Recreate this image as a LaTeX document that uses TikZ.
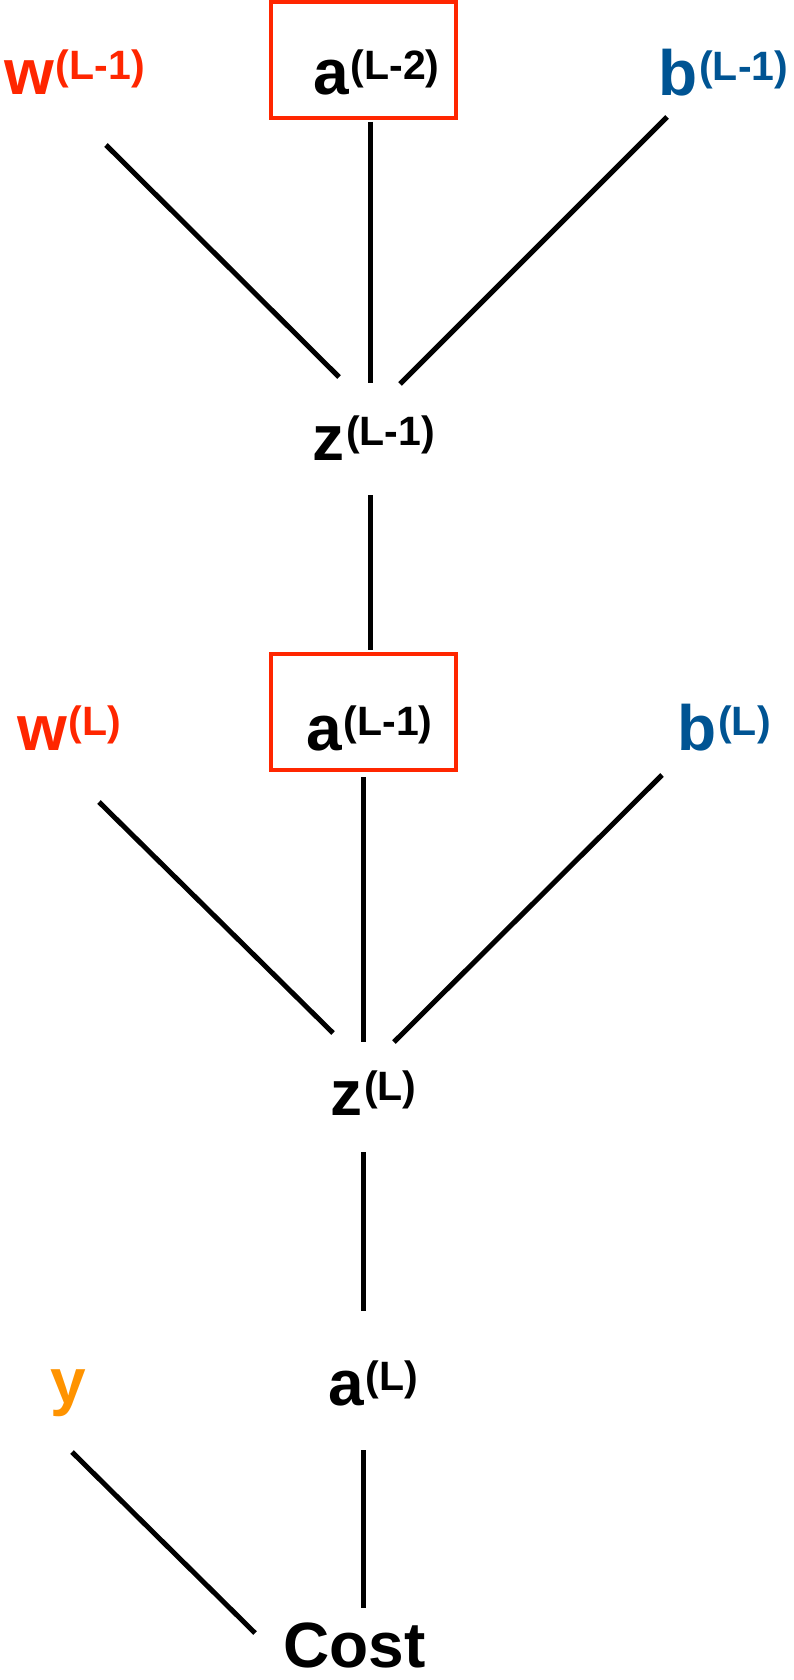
\documentclass[tikz,border=0pt]{standalone}
\usepackage{fontspec}
\setmainfont{Liberation Sans}
\definecolor{cred}{HTML}{FF2600}
\definecolor{cblue}{HTML}{005493}
\definecolor{corange}{HTML}{FF9300}
\newcommand\supl[2]{#1\kern2pt\raisebox{15pt}{\fontsize{41}{41}\selectfont #2}}
\begin{document}
\begin{tikzpicture}[x=1pt,y=-1pt,
  lab/.style={inner sep=0pt, anchor=base west, font=\fontsize{64}{70}\selectfont\bfseries},
  redbox/.style={draw=cred, line width=4pt, minimum width=185pt, minimum height=116pt, inner sep=0pt},
  conn/.style={draw=black, line width=5pt}]
\useasboundingbox (0,0) rectangle (793,1680);
% boxes
\node[redbox] (box2) at (363.5,60) {};
\node[redbox] (box1) at (363.5,712) {};
% labels
\node[lab, text=cred] (w1) at (4,95) {\supl{w}{(L-1)}};
\node[lab] (a2) at (313,95) {\supl{a}{(L-2)}};
\node[lab, text=cblue] (b1) at (658,96) {\supl{b}{(L-1)}};
\node[lab] (z1) at (312,460) {\supl{z}{(L-1)}};
\node[lab, text=cred] (w0) at (17,750) {\supl{w}{(L)}};
\node[lab] (a1) at (306,750) {\supl{a}{(L-1)}};
\node[lab, text=cblue] (b0) at (677,750) {\supl{b}{(L)}};
\node[lab] (z0) at (330,1115) {\supl{z}{(L)}};
\node[lab] (aL) at (328,1405) {\supl{a}{(L)}};
\node[lab, text=corange] (yy) at (50,1403) {y};
\node[lab] (cost) at (283,1667) {Cost};
% connectors
\draw[conn] ([shift={(102,50)}]w1.base west) -- ([shift={(27,-83)}]z1.base west);
\draw[conn] ([shift={(6.5,2)}]box2.south) -- ([shift={(58,-77)}]z1.base west);
\draw[conn] ([shift={(9,21)}]b1.base west) -- ([shift={(88,-76)}]z1.base west);
\draw[conn] ([shift={(58,35)}]z1.base west) -- ([shift={(6.5,-2)}]box1.north);
\draw[conn] ([shift={(82,52)}]w0.base west) -- ([shift={(3,-82)}]z0.base west);
\draw[conn] ([shift={(-0.5,5)}]box1.south) -- ([shift={(33,-73)}]z0.base west);
\draw[conn] ([shift={(-15,25)}]b0.base west) -- ([shift={(64,-73)}]z0.base west);
\draw[conn] ([shift={(33,37)}]z0.base west) -- ([shift={(35,-94)}]aL.base west);
\draw[conn] ([shift={(35,45)}]aL.base west) -- ([shift={(80,-59)}]cost.base west);
\draw[conn] ([shift={(22,49)}]yy.base west) -- ([shift={(-28,-34)}]cost.base west);
\end{tikzpicture}
\end{document}
